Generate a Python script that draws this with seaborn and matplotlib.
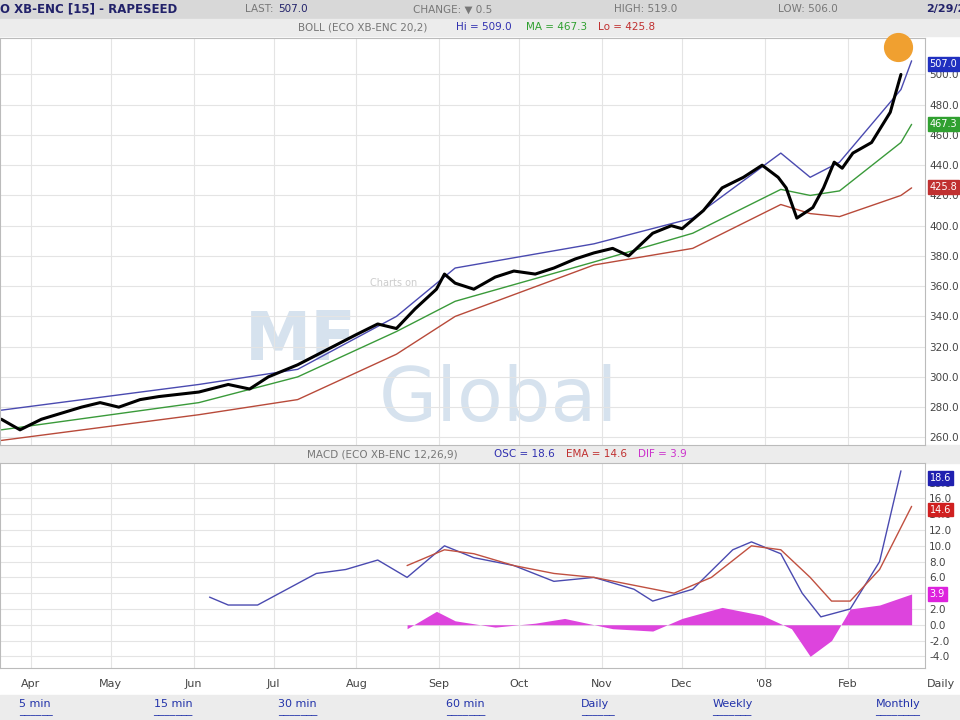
import matplotlib
matplotlib.use("Agg")
import matplotlib.pyplot as plt
import seaborn as sns
import pandas as pd
import numpy as np
from matplotlib.patches import Rectangle

sns.set_style("white")
plt.rcParams['font.family'] = ['DejaVu Sans']

# ---- data (x in days since 2007-04-01) ----
price_day = [-11, -4, 4, 19, 26, 33, 41, 48, 63, 74, 82, 89, 100, 111, 122, 130, 137, 144, 152, 155, 159, 166, 174, 181, 189, 196, 204, 211, 218, 224, 233, 240, 244, 252, 259, 267, 274, 280, 283, 287, 293, 297, 301, 304, 308, 315, 322, 326]
price_val = [272, 265, 272, 280, 283, 280, 285, 287, 290, 295, 292, 300, 308, 318, 328, 335, 332, 345, 358, 368, 362, 358, 366, 370, 368, 372, 378, 382, 385, 380, 395, 400, 398, 410, 425, 432, 440, 432, 425, 405, 412, 425, 442, 438, 448, 455, 475, 500]
band_day = [-11, 63, 100, 137, 159, 211, 248, 281, 292, 303, 326, 330]
upper = [278, 295, 305, 340, 372, 388, 405, 448, 432, 442, 490, 509]
ma = [265, 283, 300, 330, 350, 376, 395, 424, 420, 423, 455, 467]
lower = [258, 275, 285, 315, 340, 374, 385, 414, 408, 406, 420, 425]

osc_day = [67, 74, 85, 96, 107, 118, 130, 141, 155, 166, 181, 196, 211, 226, 233, 248, 263, 270, 281, 289, 296, 307, 318, 326]
osc_val = [3.5, 2.5, 2.5, 4.5, 6.5, 7.0, 8.2, 6.0, 10.0, 8.5, 7.5, 5.5, 6.0, 4.5, 3.0, 4.5, 9.5, 10.5, 9.0, 4.0, 1.0, 2.0, 8.0, 19.5]
ema_day = [141, 155, 166, 181, 196, 211, 226, 241, 255, 270, 281, 292, 300, 307, 318, 330]
ema_val = [7.5, 9.5, 9.0, 7.5, 6.5, 6.0, 5.0, 4.0, 6.0, 10.0, 9.5, 6.0, 3.0, 3.0, 7.0, 15.0]
dif_day = [141, 152, 159, 174, 189, 200, 218, 233, 244, 259, 274, 285, 292, 300, 307, 318, 330]
dif_val = [-0.5, 1.7, 0.5, -0.3, 0.2, 0.8, -0.5, -0.8, 0.8, 2.2, 1.2, -0.5, -4.0, -2.0, 2.0, 2.5, 3.9]

months = ["Apr", "May", "Jun", "Jul", "Aug", "Sep", "Oct", "Nov", "Dec", "'08", "Feb"]
month_day = [0, 30, 61, 91, 122, 153, 183, 214, 244, 275, 306]
price_ticks = [260, 280, 300, 320, 340, 360, 380, 400, 420, 440, 460, 480, 500]
macd_ticks = [-4, -2, 0, 2, 4, 6, 8, 10, 12, 14, 16, 18]

fig = plt.figure(figsize=(9.6, 7.2), dpi=100)
fig.patch.set_facecolor("white")
xlim = (-11.5, 335)

ax = fig.add_axes([0.0, 0.382, 0.9635, 0.565])
ax2 = fig.add_axes([0.0, 0.072, 0.9635, 0.285])
for a in (ax, ax2):
    a.set_xlim(*xlim)
    a.set_xticks(month_day)
    a.grid(True, color="#e4e4e4", lw=0.8)
    a.yaxis.tick_right()
    a.tick_params(axis="y", length=0, labelsize=7.5, colors="#444", pad=3)
    a.tick_params(axis="x", length=0)
    for s in a.spines.values():
        s.set_color("#bbbbbb")

ax.set_ylim(255, 524)
ax.set_yticks(price_ticks)
ax.set_yticklabels([f"{t:.1f}" for t in price_ticks])
ax.set_xticklabels([])

sns.lineplot(x=band_day, y=upper, ax=ax, color="#4a4ab0", lw=1)
sns.lineplot(x=band_day, y=ma, ax=ax, color="#3a9a3a", lw=1)
sns.lineplot(x=band_day, y=lower, ax=ax, color="#b84a3a", lw=1)
sns.lineplot(x=price_day, y=price_val, ax=ax, color="black", lw=2.2)
ax.text(0.265, 0.21, "MF", transform=ax.transAxes, fontsize=48, color="#d6e2ee",
        fontweight="bold", ha="left", zorder=0)
ax.text(0.41, 0.06, "Global", transform=ax.transAxes, fontsize=54, color="#d6e2ee", zorder=0)
ax.text(0.4, 0.39, "Charts on", transform=ax.transAxes, fontsize=7, color="#cccccc")
ax.scatter([325], [518], s=400, color="#f0a030", zorder=5, clip_on=False)

ax2.set_ylim(-5.5, 20.5)
ax2.set_yticks(macd_ticks)
ax2.set_yticklabels([f"{t:.1f}" for t in macd_ticks])
ax2.set_xticklabels(months, fontsize=8, color="#444")
ax2.tick_params(axis="x", pad=8)
ax2.fill_between(dif_day, 0, dif_val, color="#dd44dd", lw=0)
sns.lineplot(x=osc_day, y=osc_val, ax=ax2, color="#4a4ab0", lw=1)
sns.lineplot(x=ema_day, y=ema_val, ax=ax2, color="#c05040", lw=1)

def tag(a, y, txt, c):
    a.text(1.005, y, txt, transform=a.get_yaxis_transform(), fontsize=7, color="white",
           va="center", ha="left", bbox=dict(boxstyle="square,pad=0.2", fc=c, ec=c))
tag(ax, 507, "507.0", "#2030c0")
tag(ax, 467.3, "467.3", "#30a030")
tag(ax, 425.8, "425.8", "#c03030")
tag(ax2, 18.6, "18.6", "#2020b0")
tag(ax2, 14.6, "14.6", "#d02020")
tag(ax2, 3.9, "3.9", "#dd22dd")

# header bars
fig.patches.append(Rectangle((0, 0.974), 1, 0.026, transform=fig.transFigure, color="#d8d8d8", zorder=-1))
fig.patches.append(Rectangle((0, 0.95), 1, 0.024, transform=fig.transFigure, color="#ececec", zorder=-1))
fig.patches.append(Rectangle((0, 0.357), 1, 0.025, transform=fig.transFigure, color="#ececec", zorder=-1))
fig.patches.append(Rectangle((0, 0.0), 1, 0.035, transform=fig.transFigure, color="#ececec", zorder=-1))
fig.text(0.0, 0.987, "O XB-ENC [15] - RAPESEED", fontsize=8.5, color="#22226a", fontweight="bold", va="center")
fig.text(0.255, 0.987, "LAST:", fontsize=7.5, color="#777", va="center")
fig.text(0.29, 0.987, "507.0", fontsize=7.5, color="#22226a", va="center")
fig.text(0.43, 0.987, "CHANGE: \u25bc 0.5", fontsize=7.5, color="#777", va="center")
fig.text(0.64, 0.987, "HIGH: 519.0", fontsize=7.5, color="#777", va="center")
fig.text(0.81, 0.987, "LOW: 506.0", fontsize=7.5, color="#777", va="center")
fig.text(0.965, 0.987, "2/29/20", fontsize=8, color="#22226a", fontweight="bold", va="center")
fig.text(0.31, 0.962, "BOLL (ECO XB-ENC 20,2)", fontsize=7.5, color="#777", va="center")
fig.text(0.475, 0.962, "Hi = 509.0", fontsize=7.5, color="#3030b0", va="center")
fig.text(0.548, 0.962, "MA = 467.3", fontsize=7.5, color="#30a030", va="center")
fig.text(0.623, 0.962, "Lo = 425.8", fontsize=7.5, color="#c03030", va="center")
fig.text(0.32, 0.369, "MACD (ECO XB-ENC 12,26,9)", fontsize=7.5, color="#777", va="center")
fig.text(0.515, 0.369, "OSC = 18.6", fontsize=7.5, color="#3030b0", va="center")
fig.text(0.59, 0.369, "EMA = 14.6", fontsize=7.5, color="#c03030", va="center")
fig.text(0.665, 0.369, "DIF = 3.9", fontsize=7.5, color="#cc33cc", va="center")
fig.text(0.965, 0.05, "Daily", fontsize=8, color="#444", va="center")
for xx, t in [(0.02, "5 min"), (0.16, "15 min"), (0.29, "30 min"), (0.465, "60 min"),
              (0.605, "Daily"), (0.742, "Weekly"), (0.912, "Monthly")]:
    fig.text(xx, 0.022, t, fontsize=8, color="#2233aa", va="center", ha="left")
    fig.text(xx, 0.012, "_" * (len(t) + 1), fontsize=8, color="#2233aa", va="center", ha="left")

fig.savefig("out.png", dpi=100)
